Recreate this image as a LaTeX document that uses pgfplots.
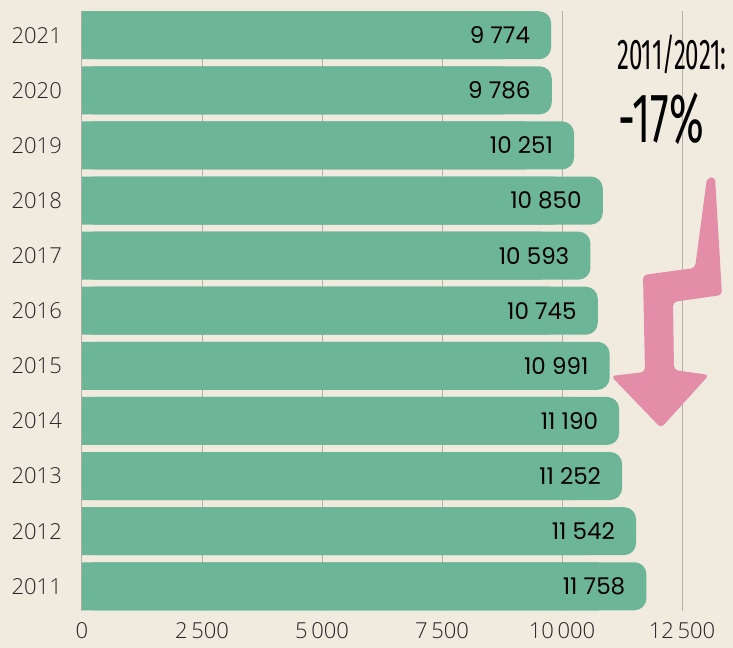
\documentclass[border=0pt]{standalone}
\usepackage{fontspec}
\setmainfont{Open Sans}[UprightFont=* Light]
\newfontfamily\pop{Poppins}
\newfontfamily\hand[FakeStretch=0.56]{Fira Sans}
\newfontfamily\handb[FakeStretch=0.6]{Fira Sans}
\usepackage{pgfplots}
\pgfplotsset{compat=1.18}
\usepackage{pgfplotstable}
\definecolor{bg}{HTML}{F0EADF}
\definecolor{barc}{HTML}{6CB597}
\definecolor{pinkA}{HTML}{E38DA8}
\definecolor{gridc}{HTML}{B3AFA5}

\pgfplotstableread{
y v
0 11758
1 11542
2 11252
3 11190
4 10991
5 10745
6 10593
7 10850
8 10251
9 9786
10 9774
}\data

\begin{document}
\begin{tikzpicture}
\fill[bg] (-82pt,-37pt) rectangle (651pt,610.5pt);
\useasboundingbox (-82pt,-37pt) rectangle (651pt,610.5pt);
\begin{axis}[
  at={(0pt,0pt)}, anchor=south west,
  scale only axis, width=651pt, height=599.5pt,
  xmin=0, xmax=13562, ymin=-0.44, ymax=10.44,
  xtick={0,2500,5000,7500,10000,12500},
  scaled x ticks=false,
  ytick={0,1,2,3,4,5,6,7,8,9,10},
  yticklabels={2011,2012,2013,2014,2015,2016,2017,2018,2019,2020,2021},
  xmajorgrids, major grid style={gridc, line width=1pt},
  axis line style={draw=none}, major tick length=0pt,
  tick label style={font=\fontsize{22}{26}\selectfont, text=black!85},
  /pgf/number format/assume math mode=true,
  /pgf/number format/1000 sep={\,},
  yticklabel style={anchor=east, inner sep=0pt, xshift=-20pt},
  xticklabel style={anchor=north, inner sep=0pt, yshift=-12pt},
  clip=false,
]
\addplot[xbar, bar shift=0pt, bar width=48pt, fill=barc, draw=none]
  table[x expr=\thisrow{v}-1000, y=y]{\data};
\addplot[xbar, bar shift=0pt, bar width=48pt, fill=barc, draw=none, rounded corners=12pt,
  nodes near coords={\pgfmathprintnumber[1000 sep={\ }]{\pgfplotspointmeta}},
  every node near coord/.append style={anchor=east, inner sep=0pt, xshift=-21pt, text=black,
    font=\pop\fontsize{23}{27}\selectfont}]
  table[x=v, y=y]{\data};
\end{axis}
\fill[pinkA, rounded corners=4pt] (633pt,433.5pt) -- (640pt,315.5pt) -- (591pt,308.5pt) -- (592pt,240.5pt)
  -- (627pt,235.5pt) -- (579pt,182.5pt) -- (529pt,234.5pt) -- (563pt,238.5pt) -- (561pt,335.5pt)
  -- (613pt,342.5pt) -- (625pt,432.5pt) -- cycle;
\node[anchor=base west, inner sep=0pt] at (535pt,540.5pt) {\hand\fontsize{43}{43}\selectfont 2011/2021:};
\node[anchor=base west, inner sep=0pt] at (536pt,467.5pt) {\handb\fontsize{70}{70}\selectfont -17\%};
\end{tikzpicture}
\end{document}
